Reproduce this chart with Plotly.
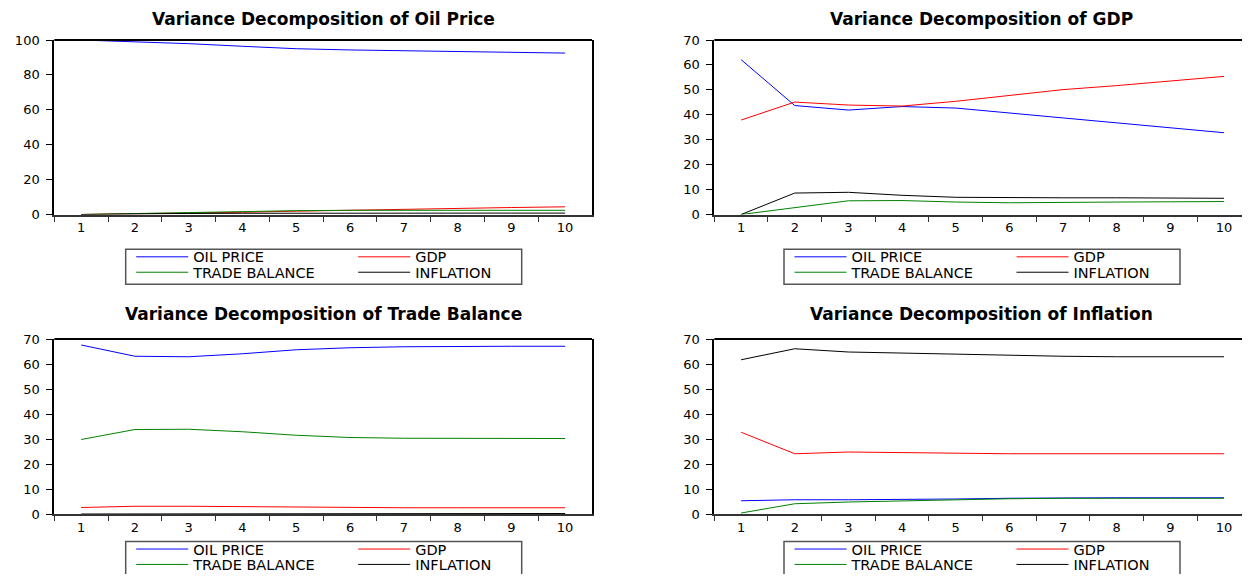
import plotly.graph_objects as go

# ---------------- data ----------------
periods = ["1", "2", "3", "4", "5", "6", "7", "8", "9", "10"]
series_names = ["OIL PRICE", "GDP", "TRADE BALANCE", "INFLATION"]
panel_titles = [
    "Variance Decomposition of Oil Price",
    "Variance Decomposition of GDP",
    "Variance Decomposition of Trade Balance",
    "Variance Decomposition of Inflation",
]

# Variance Decomposition of Oil Price
oil_by_oil = [100.0, 99.0, 97.9, 96.4, 95.0, 94.3, 93.9, 93.5, 93.1, 92.5]
oil_by_gdp = [0.0, 0.3, 0.8, 1.3, 1.9, 2.5, 3.0, 3.5, 4.0, 4.4]
oil_by_tb = [0.0, 0.6, 1.1, 1.7, 2.2, 2.4, 2.5, 2.5, 2.5, 2.4]
oil_by_inf = [0.0, 0.4, 0.6, 0.7, 0.8, 0.8, 0.8, 0.8, 0.8, 0.8]

# Variance Decomposition of GDP
gdp_by_oil = [62.1, 43.7, 41.9, 43.3, 42.7, 40.7, 38.6, 36.7, 34.7, 32.8]
gdp_by_gdp = [37.9, 45.1, 43.9, 43.5, 45.4, 47.8, 50.1, 51.7, 53.6, 55.4]
gdp_by_tb = [0.0, 2.8, 5.5, 5.6, 5.0, 4.7, 4.7, 5.0, 5.1, 5.2]
gdp_by_inf = [0.0, 8.6, 8.9, 7.7, 6.9, 6.7, 6.7, 6.7, 6.6, 6.5]

# Variance Decomposition of Trade Balance
tb_by_oil = [67.6, 63.1, 62.9, 64.1, 65.7, 66.5, 66.9, 67.1, 67.1, 67.1]
tb_by_gdp = [2.6, 3.1, 3.1, 2.9, 2.7, 2.6, 2.5, 2.5, 2.5, 2.5]
tb_by_tb = [29.8, 33.8, 33.9, 32.9, 31.5, 30.6, 30.3, 30.2, 30.2, 30.2]
tb_by_inf = [0.0, 0.0, 0.1, 0.1, 0.1, 0.2, 0.2, 0.2, 0.2, 0.2]

# Variance Decomposition of Inflation
inf_by_oil = [5.3, 5.7, 5.7, 5.7, 6.0, 6.3, 6.5, 6.5, 6.5, 6.5]
inf_by_gdp = [32.7, 24.1, 24.8, 24.5, 24.4, 24.1, 24.1, 24.1, 24.1, 24.1]
inf_by_tb = [0.4, 4.1, 4.8, 5.2, 5.9, 6.1, 6.3, 6.3, 6.3, 6.3]
inf_by_inf = [61.7, 66.1, 64.8, 64.4, 63.7, 63.3, 63.1, 62.9, 62.9, 62.9]

y_max = [100, 70, 70, 70]
y_step = [20, 10, 10, 10]

panel_series = [
    [oil_by_oil, oil_by_gdp, oil_by_tb, oil_by_inf],
    [gdp_by_oil, gdp_by_gdp, gdp_by_tb, gdp_by_inf],
    [tb_by_oil, tb_by_gdp, tb_by_tb, tb_by_inf],
    [inf_by_oil, inf_by_gdp, inf_by_tb, inf_by_inf],
]

# ---------------- style / geometry ----------------
# the page body has an 8px default margin; keep the page exactly 1250x582
OFF = 8.0
W, H = 1234, 566
colors = ["#0000FF", "#FF0000", "#008000", "#000000"]
FONT = "DejaVu Sans"

# positions measured on the 1250x582 page
cols_px = [(54.3, 592.0), (714.3, 1242.0)]
col_range_end = [9.5, 9.335]          # right column is cut by the page edge
rows_px = [(40.0, 214.5), (339.0, 514.0)]
legend_left_px = [125.7, 784.0]
legend_top_px = [249.3, 541.5]
legend_w, legend_h = 396.0, 35.0
legend_row_off = [7.6, 23.0]
title_y_px = [8.0, 314.0]
title_anchor = ["top", "middle"]
title_cx_px = [323.0, 982.0]


def fx(p):
    return (p - OFF) / W


def fy(p):
    return 1 - (p - OFF) / H


fig = go.Figure()
layout = dict(
    width=W, height=H, autosize=False,
    margin=dict(l=0, r=0, t=0, b=0, autoexpand=False),
    paper_bgcolor="white", plot_bgcolor="white",
    font=dict(family=FONT, color="#000000"),
)
shapes = []
annotations = []
legend_ids = ["legend"] + [f"legend{i}" for i in range(2, 9)]

for k in range(4):
    r, c = divmod(k, 2)
    n = k + 1
    xa = "x" if n == 1 else f"x{n}"
    ya = "y" if n == 1 else f"y{n}"
    xkey = "xaxis" if n == 1 else f"xaxis{n}"
    ykey = "yaxis" if n == 1 else f"yaxis{n}"
    x0p, x1p = cols_px[c]
    y0p, y1p = rows_px[r]

    layout[xkey] = dict(
        domain=[fx(x0p), min(1.0, fx(x1p))], anchor=ya,
        type="category", range=[-0.5, col_range_end[c]], tickson="boundaries",
        ticks="outside", ticklen=5, tickwidth=1, tickcolor="#333333",
        showline=True, linecolor="#333333", linewidth=2, mirror=False,
        showgrid=False, zeroline=False, automargin=False,
        tickfont=dict(family=FONT, size=13, color="#000000"),
    )
    layout[ykey] = dict(
        domain=[fy(y1p), fy(y0p)], anchor=xa,
        range=[0, y_max[k]], dtick=y_step[k], tick0=0,
        ticks="outside", ticklen=6, tickwidth=1, tickcolor="#000000",
        showline=True, linecolor="#000000", linewidth=2, mirror=(c == 0),
        showgrid=False, zeroline=False, ticklabelstandoff=4, automargin=False,
        tickfont=dict(family=FONT, size=13, color="#000000"),
    )
    # top border of the frame
    shapes.append(dict(type="line", xref=f"{xa} domain", yref=f"{ya} domain",
                       x0=0, x1=1, y0=1, y1=1, line=dict(color="#000000", width=2)))
    # title
    annotations.append(dict(text=f"<b>{panel_titles[k]}</b>", xref="paper", yref="paper",
                            x=fx(title_cx_px[c]), y=fy(title_y_px[r]),
                            xanchor="center", yanchor=title_anchor[r], showarrow=False,
                            borderpad=0,
                            font=dict(family=FONT, size=17, color="#000000")))
    # legend box
    lb = legend_left_px[c]
    lt = legend_top_px[r]
    box_bottom = lt + legend_h if r == 0 else lt + legend_h + 20
    shapes.append(dict(type="rect", xref="paper", yref="paper",
                       x0=fx(lb), x1=fx(lb + legend_w), y0=fy(box_bottom), y1=fy(lt),
                       line=dict(color="#555555", width=1.5), fillcolor="rgba(0,0,0,0)"))
    for row in range(2):
        lid = legend_ids[2 * k + row]
        layout[lid] = dict(
            orientation="h", x=fx(lb + 5.5), xanchor="left",
            y=fy(lt + legend_row_off[row]), yanchor="middle",
            bgcolor="rgba(0,0,0,0)", borderwidth=0,
            font=dict(family=FONT, size=14.5, color="#000000"),
            itemwidth=52, entrywidth=155, entrywidthmode="pixels",
            itemclick=False, itemdoubleclick=False,
        )

    for s in range(4):
        fig.add_trace(go.Scatter(
            x=periods, y=panel_series[k][s], mode="lines", name=series_names[s],
            line=dict(color=colors[s], width=1),
            xaxis=xa, yaxis=ya, legend=legend_ids[2 * k + (s // 2)],
            showlegend=True, hoverinfo="skip",
        ))

layout["shapes"] = shapes
layout["annotations"] = annotations
fig.update_layout(**layout)
fig.write_html("out.html")
